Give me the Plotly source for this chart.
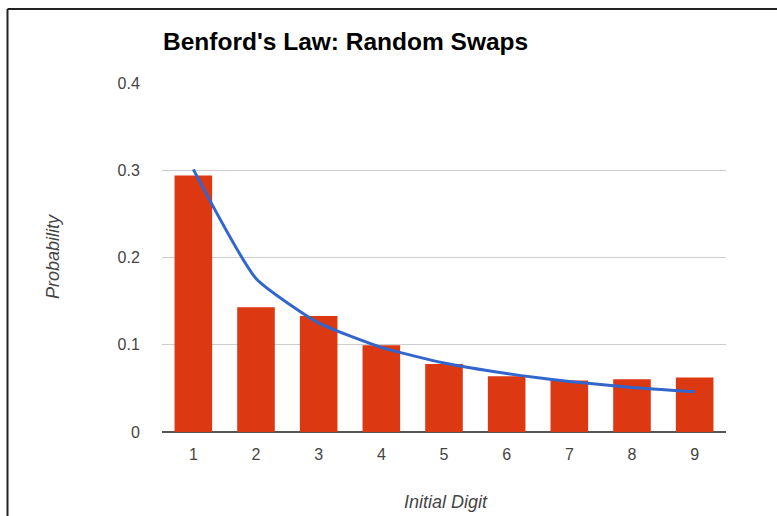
import plotly.graph_objects as go

digits = ["1", "2", "3", "4", "5", "6", "7", "8", "9"]
observed = [0.294, 0.143, 0.133, 0.0995, 0.078, 0.064, 0.059, 0.0605, 0.0625]
benford = [0.301, 0.176, 0.125, 0.097, 0.079, 0.067, 0.058, 0.051, 0.046]
y_ticks = [0, 0.1, 0.2, 0.3, 0.4]
y_tick_text = ["0", "0.1", "0.2", "0.3", "0.4"]

W, H = 777, 516
L, R, T, B = 162, 51, 83, 84
pw, ph = W - L - R, H - T - B

def px_x(p):
    return (p - L) / pw

def px_y(p):
    return (H - B - p) / ph

FONT = "Liberation Sans, Arial, sans-serif"

fig = go.Figure()
fig.add_trace(go.Bar(x=digits, y=observed, marker=dict(color="#dc3912", line=dict(width=0)),
                     showlegend=False, hoverinfo="skip"))
fig.add_trace(go.Scatter(x=digits, y=benford, mode="lines",
                         line=dict(color="#3366cc", width=3, shape="spline", smoothing=0.5),
                         showlegend=False, hoverinfo="skip"))

fig.update_layout(
    width=W, height=H,
    margin=dict(l=L, r=R, t=T, b=B, pad=0),
    paper_bgcolor="white", plot_bgcolor="white",
    bargap=0.4,
    font=dict(family=FONT, color="#444"),
    xaxis=dict(type="category", showgrid=False, showline=False, zeroline=False,
               ticks="outside", ticklen=8, tickcolor="rgba(0,0,0,0)",
               tickfont=dict(size=16, color="#444")),
    yaxis=dict(range=[0, 0.4], tickvals=y_ticks, ticktext=y_tick_text,
               showgrid=True, gridcolor="#cccccc", gridwidth=1,
               zeroline=True, zerolinecolor="#555555", zerolinewidth=2,
               showline=False, ticks="outside", ticklen=18, tickcolor="rgba(0,0,0,0)",
               tickfont=dict(size=16, color="#444")),
    shapes=[
        dict(type="line", xref="paper", yref="paper",
             x0=px_x(7.5), x1=px_x(785), y0=px_y(9), y1=px_y(9),
             line=dict(color="#222", width=2)),
        dict(type="line", xref="paper", yref="paper",
             x0=px_x(7.5), x1=px_x(7.5), y0=px_y(9), y1=px_y(525),
             line=dict(color="#222", width=2)),
    ],
    annotations=[
        dict(text="<b>Benford's Law: Random Swaps</b>", xref="paper", yref="paper",
             x=px_x(161), y=px_y(41), xanchor="left", yanchor="middle", showarrow=False,
             font=dict(size=24.5, color="#000", family=FONT)),
        dict(text="<i>Initial Digit</i>", xref="paper", yref="paper",
             x=px_x(446), y=px_y(502), xanchor="center", yanchor="middle", showarrow=False,
             font=dict(size=18, color="#444", family=FONT)),
        dict(text="<i>Probability</i>", xref="paper", yref="paper",
             x=px_x(53), y=px_y(257), xanchor="center", yanchor="middle", showarrow=False,
             textangle=-90, font=dict(size=18, color="#444", family=FONT)),
    ],
)

fig.write_html("out.html", config={"displayModeBar": False},
               post_script="document.body.style.margin='0';document.body.style.overflow='hidden';")
